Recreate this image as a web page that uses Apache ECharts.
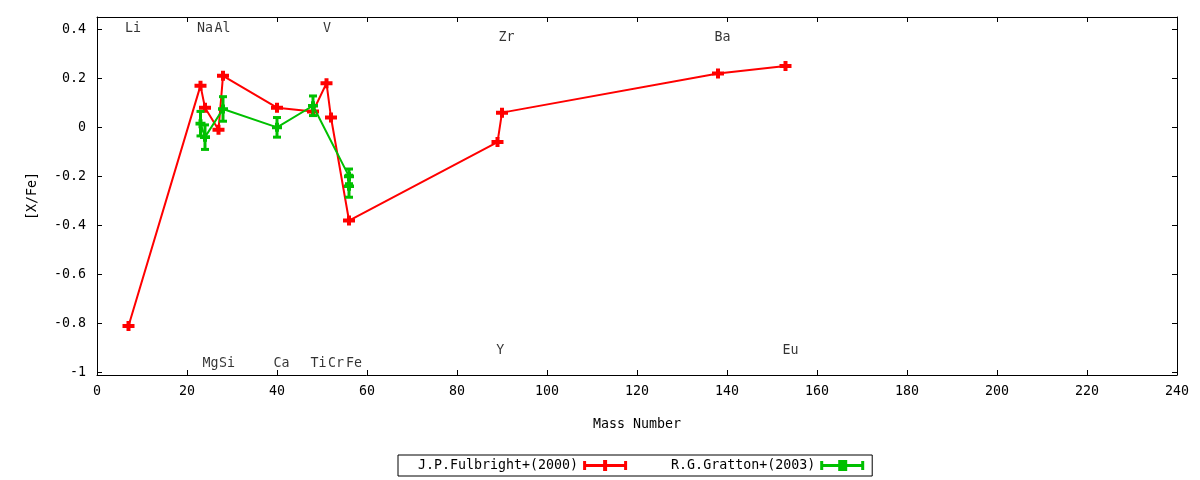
<!DOCTYPE html>
<html>
<head>
<meta charset="utf-8">
<script src="https://cdn.jsdelivr.net/npm/echarts@6/dist/echarts.min.js"></script>
<style>html,body{margin:0;padding:0;background:#fff}#c{width:1200px;height:480px}</style>
</head>
<body>
<div id="c"></div>
<script>
// J.P.Fulbright+(2000)
var fulX = [7, 23, 24, 27, 28, 40, 48, 51, 52, 56, 89, 90, 138, 153];
var fulY = [-0.81, 0.17, 0.08, -0.01, 0.21, 0.08, 0.065, 0.18, 0.04, -0.38, -0.06, 0.06, 0.22, 0.25];
// R.G.Gratton+(2003)
var gratX = [23, 24, 28, 40, 48, 56, 56];
var gratY = [0.015, -0.04, 0.075, 0.0, 0.088, -0.2, -0.24];
var gratErr = [0.05, 0.05, 0.05, 0.04, 0.04, 0.03, 0.045];
// element labels
var labelNames = ['Li', 'Na', 'Al', 'V', 'Zr', 'Ba', 'Mg', 'Si', 'Ca', 'Ti', 'Cr', 'Fe', 'Y', 'Eu'];
var labelX = [8.0, 24.0, 27.9, 51.1, 91.0, 139.0, 25.2, 28.9, 41.0, 49.2, 53.1, 57.1, 89.6, 154.1];
var labelY = [0.404, 0.404, 0.404, 0.404, 0.366, 0.366, -0.963, -0.963, -0.963, -0.963, -0.963, -0.963, -0.91, -0.91];
// ticks
var xTicks = [0, 20, 40, 60, 80, 100, 120, 140, 160, 180, 200, 220, 240];
var yTicks = [-1, -0.8, -0.6, -0.4, -0.2, 0, 0.2, 0.4];

var FONT = 'DejaVu Sans Mono';
var FS = 13.3;
var RED = '#ff0000', GREEN = '#00c000';
var plusPath = 'path://M0,3h12v4h-12z M4,0h4v10h-4z';

var fulData = fulX.map(function (x, i) { return [x, fulY[i]]; });
var gratData = gratX.map(function (x, i) { return [x, gratY[i]]; });
var errData = gratX.map(function (x, i) { return [x, gratY[i] - gratErr[i], gratY[i] + gratErr[i]]; });
var labelData = labelNames.map(function (n, i) { return { name: n, value: [labelX[i], labelY[i]] }; });

var chart = echarts.init(document.getElementById('c'), null, { renderer: 'canvas' });
var axisCommon = {
  axisLine: { show: true, onZero: false, lineStyle: { color: '#000', width: 1 } },
  splitLine: { show: false }
};
chart.setOption({
  animation: false,
  backgroundColor: '#fff',
  textStyle: { fontFamily: FONT },
  grid: { left: 97, right: 23, top: 17, bottom: 105 },
  legend: {
    left: 398, top: 455,
    orient: 'horizontal',
    align: 'right',
    borderColor: '#000', borderWidth: 1,
    padding: [4, 8, 4, 20],
    itemGap: 44, itemWidth: 44, itemHeight: 11,
    textStyle: { fontFamily: FONT, fontSize: FS, color: '#000' },
    data: [
      { name: 'J.P.Fulbright+(2000)', icon: 'path://M0,4h44v3h-44z M0,1h3v9h-3z M41,1h3v9h-3z M20,0h4v11h-4z' },
      { name: 'R.G.Gratton+(2003)', icon: 'path://M0,4h44v3h-44z M0,1h3v9h-3z M41,1h3v9h-3z M18,0h9v11h-9z' }
    ]
  },
  xAxis: [
    Object.assign({}, axisCommon, {
      type: 'value', min: 0, max: 240, interval: 20, position: 'bottom',
      name: 'Mass Number', nameLocation: 'middle', nameGap: 43,
      nameTextStyle: { fontFamily: FONT, fontSize: FS, color: '#000' },
      axisLabel: { color: '#000', fontFamily: FONT, fontSize: FS, margin: 10, customValues: xTicks },
      axisTick: { show: true, inside: true, length: 5, lineStyle: { color: '#000' }, customValues: xTicks }
    }),
    Object.assign({}, axisCommon, {
      type: 'value', min: 0, max: 240, interval: 20, position: 'top',
      axisLabel: { show: false },
      axisTick: { show: true, inside: true, length: 5, lineStyle: { color: '#000' }, customValues: xTicks }
    })
  ],
  yAxis: [
    Object.assign({}, axisCommon, {
      type: 'value', min: -1.01, max: 0.45, position: 'left',
      name: '[X/Fe]', nameLocation: 'middle', nameGap: 58, nameRotate: 90,
      nameTextStyle: { fontFamily: FONT, fontSize: FS, color: '#000' },
      axisLabel: { color: '#000', fontFamily: FONT, fontSize: FS, margin: 11, customValues: yTicks,
        formatter: function (v) { return String(Math.round(v * 10) / 10); } },
      axisTick: { show: true, inside: true, length: 5, lineStyle: { color: '#000' }, customValues: yTicks }
    }),
    Object.assign({}, axisCommon, {
      type: 'value', min: -1.01, max: 0.45, position: 'right',
      axisLabel: { show: false },
      axisTick: { show: true, inside: true, length: 5, lineStyle: { color: '#000' }, customValues: yTicks }
    })
  ],
  series: [
    {
      name: 'labels', type: 'scatter', xAxisIndex: 0, yAxisIndex: 0,
      symbolSize: 0, silent: true, data: labelData, z: 1,
      label: { show: true, position: 'inside', formatter: '{b}', color: '#000', fontFamily: FONT, fontSize: FS }
    },
    {
      name: 'J.P.Fulbright+(2000)', type: 'line', xAxisIndex: 0, yAxisIndex: 0,
      data: fulData, symbol: plusPath, symbolSize: [12, 10], symbolKeepAspect: false, showSymbol: true,
      lineStyle: { color: RED, width: 2 }, itemStyle: { color: RED, opacity: 1 }, z: 2
    },
    {
      name: 'R.G.Gratton+(2003)', type: 'line', xAxisIndex: 0, yAxisIndex: 0,
      data: gratData, symbol: 'path://M0,3h10v4h-10z M3,0h4v10h-4z', symbolSize: [10, 9], symbolKeepAspect: false,
      lineStyle: { color: GREEN, width: 2 }, itemStyle: { color: GREEN, opacity: 1 }, z: 4
    },
    {
      name: 'gratErr', type: 'custom', xAxisIndex: 0, yAxisIndex: 0, data: errData, z: 3,
      renderItem: function (params, api) {
        var x = api.value(0);
        var lo = api.coord([x, api.value(1)]);
        var hi = api.coord([x, api.value(2)]);
        var cw = 4;
        var st = { stroke: GREEN, lineWidth: 3 };
        return { type: 'group', children: [
          { type: 'line', shape: { x1: hi[0], y1: hi[1], x2: lo[0], y2: lo[1] }, style: st },
          { type: 'line', shape: { x1: hi[0] - cw, y1: hi[1], x2: hi[0] + cw, y2: hi[1] }, style: st },
          { type: 'line', shape: { x1: lo[0] - cw, y1: lo[1], x2: lo[0] + cw, y2: lo[1] }, style: st }
        ] };
      }
    }
  ]
});
</script>
</body>
</html>
